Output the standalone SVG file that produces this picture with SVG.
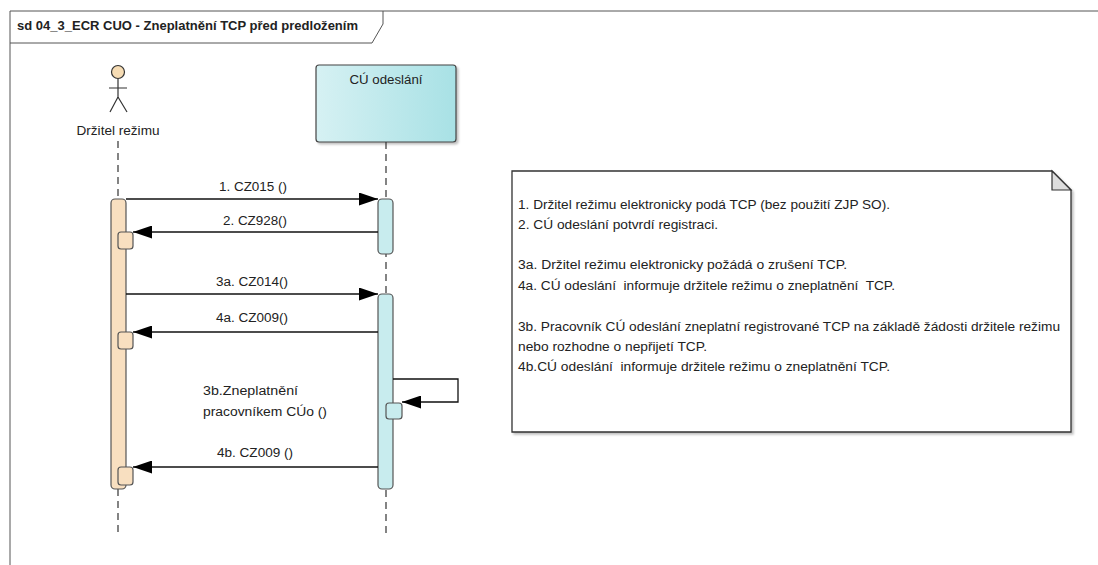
<svg xmlns="http://www.w3.org/2000/svg" width="1098" height="565" viewBox="0 0 1098 565">
<style>
text{font-family:"Liberation Sans",Arial,sans-serif;font-size:12px;fill:#222}
.title{font-weight:bold}
.frame{fill:none;stroke:#555;stroke-width:1}
.life{stroke:#333;stroke-width:1.2;stroke-dasharray:7 5;fill:none}
.msg{stroke:#111;stroke-width:1.3;fill:none}
.actAct{fill:#f8dfc0;stroke:#555;stroke-width:1.2}
.cuAct{fill:#c8ecee;stroke:#555;stroke-width:1.2}
.fig{stroke:#333;stroke-width:1.2;fill:none}
</style>
<defs>
<marker id="arr" viewBox="0 0 19 13" refX="19" refY="6.5" markerWidth="19" markerHeight="13" markerUnits="userSpaceOnUse" orient="auto">
<path d="M0,0 L19,6.5 L0,13 Z" fill="#000"/>
</marker>
<linearGradient id="cuGrad" x1="0" y1="0" x2="1" y2="0">
<stop offset="0" stop-color="#d6f1f3"/>
<stop offset="1" stop-color="#a8e1e5"/>
</linearGradient>
<filter id="sh" x="-10%" y="-10%" width="130%" height="130%">
<feDropShadow dx="2" dy="2" stdDeviation="1" flood-color="#000" flood-opacity="0.25"/>
</filter>
</defs>
<rect width="1098" height="565" fill="#fff"/>
<g id="frame">
<path class="frame" d="M10,565 L10,11 L1098,11"/>
<path class="frame" d="M10,43 L372,43 L383,24 L383,11"/>
<text class="title" x="17" y="30" textLength="341" lengthAdjust="spacingAndGlyphs">sd 04_3_ECR CUO - Zneplatnění TCP před predložením</text>
</g>
<g id="actor">
<circle cx="118" cy="72" r="6.5" fill="#f6dcb4" stroke="#333" stroke-width="1.2"/>
<path class="fig" d="M118,79 V97 M109,88 H127 M118,97 L110,112 M118,97 L127,112"/>
<text x="118" y="135" text-anchor="middle" textLength="83" lengthAdjust="spacingAndGlyphs">Držitel režimu</text>
<line class="life" x1="118" y1="141" x2="118" y2="535"/>
<rect class="actAct" x="111" y="199" width="15" height="290" rx="4"/>
<rect class="actAct" x="118" y="232" width="15" height="17" rx="3"/>
<rect class="actAct" x="118" y="332" width="15" height="17" rx="3"/>
<rect class="actAct" x="118" y="467" width="15" height="18" rx="3"/>
</g>
<g id="cu">
<rect x="316" y="65" width="140" height="77" rx="3" fill="url(#cuGrad)" stroke="#444" stroke-width="1.2" filter="url(#sh)"/>
<text x="386" y="84" text-anchor="middle" textLength="73" lengthAdjust="spacingAndGlyphs">CÚ odeslání</text>
<line class="life" x1="386" y1="142" x2="386" y2="535"/>
<rect class="cuAct" x="378" y="199" width="15" height="55" rx="4"/>
<rect class="cuAct" x="378" y="294" width="15" height="195" rx="4"/>
<rect class="cuAct" x="386" y="403" width="16" height="16" rx="3"/>
</g>
<g id="connectors">
<line class="msg" x1="126" y1="199" x2="378" y2="199" marker-end="url(#arr)"/>
<text x="253" y="191" text-anchor="middle" textLength="68" lengthAdjust="spacingAndGlyphs">1. CZ015 ()</text>
<line class="msg" x1="378" y1="232" x2="133" y2="232" marker-end="url(#arr)"/>
<text x="255" y="225" text-anchor="middle" textLength="64" lengthAdjust="spacingAndGlyphs">2. CZ928()</text>
<line class="msg" x1="126" y1="294" x2="378" y2="294" marker-end="url(#arr)"/>
<text x="252" y="286" text-anchor="middle" textLength="72" lengthAdjust="spacingAndGlyphs">3a. CZ014()</text>
<line class="msg" x1="378" y1="332" x2="133" y2="332" marker-end="url(#arr)"/>
<text x="252" y="322" text-anchor="middle" textLength="72" lengthAdjust="spacingAndGlyphs">4a. CZ009()</text>
<path class="msg" d="M393,379 H458 V402 H402" marker-end="url(#arr)"/>
<text x="203" y="395" textLength="95" lengthAdjust="spacingAndGlyphs">3b.Zneplatnění</text>
<text x="203" y="416" textLength="124" lengthAdjust="spacingAndGlyphs">pracovníkem CÚo ()</text>
<line class="msg" x1="378" y1="467" x2="133" y2="467" marker-end="url(#arr)"/>
<text x="255" y="457" text-anchor="middle" textLength="76" lengthAdjust="spacingAndGlyphs">4b. CZ009 ()</text>
</g>
<g id="note">
<path d="M512,171 H1052 L1071,190 V432 H512 Z" fill="#fff" stroke="#333" stroke-width="1.3" filter="url(#sh)"/>
<path d="M1052,171 V190 H1071 Z" fill="#ddd" stroke="#333" stroke-width="1.2"/>
<text x="518" y="209" textLength="372" lengthAdjust="spacingAndGlyphs">1. Držitel režimu elektronicky podá TCP (bez použití ZJP SO).</text>
<text x="518" y="229" textLength="200" lengthAdjust="spacingAndGlyphs">2. CÚ odeslání potvrdí registraci.</text>
<text x="518" y="269" textLength="329" lengthAdjust="spacingAndGlyphs">3a. Držitel režimu elektronicky požádá o zrušení TCP.</text>
<text x="518" y="290" textLength="377" lengthAdjust="spacingAndGlyphs" xml:space="preserve">4a. CÚ odeslání  informuje držitele režimu o zneplatnění  TCP.</text>
<text x="518" y="331" textLength="542" lengthAdjust="spacingAndGlyphs">3b. Pracovník CÚ odeslání zneplatní registrované TCP na základě žádosti držitele režimu</text>
<text x="518" y="351" textLength="189" lengthAdjust="spacingAndGlyphs">nebo rozhodne o nepřijetí TCP.</text>
<text x="518" y="371" textLength="372" lengthAdjust="spacingAndGlyphs" xml:space="preserve">4b.CÚ odeslání  informuje držitele režimu o zneplatnění TCP.</text>
</g>
</svg>
